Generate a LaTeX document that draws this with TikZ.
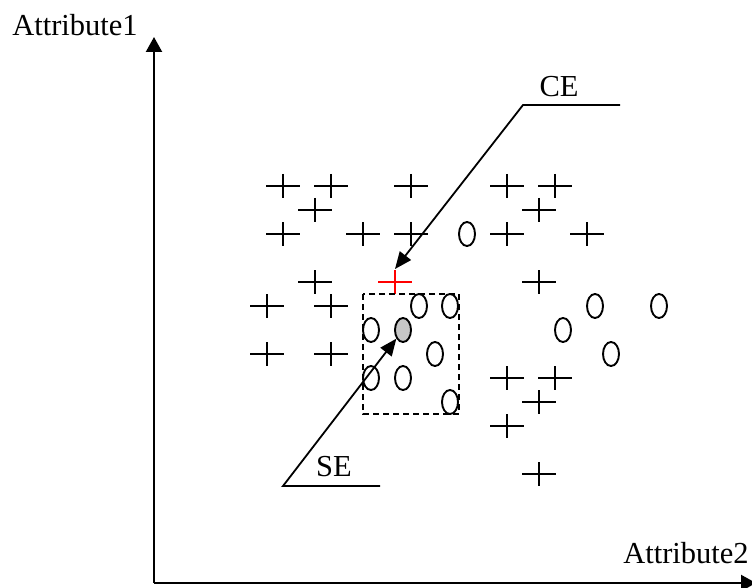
\documentclass[tikz,border=0pt]{standalone}
\usepackage{fontspec}
\setmainfont{Liberation Serif}
\usetikzlibrary{arrows.meta,shapes.geometric}
\begin{document}
\begin{tikzpicture}[x=1pt,y=-1pt,
  line width=2pt,
  lbl/.style={font=\fontsize{30.5}{36}\selectfont, inner sep=0pt},
  plusmark/.style={rectangle, minimum width=34pt, minimum height=24pt, inner sep=0pt,
    path picture={\draw[line width=2.2pt, #1]
      (path picture bounding box.west) -- (path picture bounding box.east)
      (path picture bounding box.north) -- (path picture bounding box.south);}},
  plusmark/.default=black,
  ovalmark/.style={ellipse, draw, line width=1.9pt, minimum width=16pt, minimum height=24pt, inner sep=0pt},
  axisarrow/.style={line width=2.2pt, -{Triangle[length=15pt,width=16pt]}},
  callout/.style={line width=1.8pt, -{Triangle[length=17pt,width=14pt]}},
  region/.style={draw, line width=1.6pt, dash pattern=on 6pt off 4pt}
]
\useasboundingbox (0,0) rectangle (752,588);

% axes
\coordinate (origin) at (154,583);
\coordinate (ytop) at (154,37);
\coordinate (xend) at (756,583);
\draw[axisarrow] (origin) -- (ytop);
\draw[axisarrow] (origin) -- (xend);
\node[lbl] (ylabel) at (75,25) {Attribute1};
\node[lbl] (xlabel) at (686,553) {Attribute2};

% class "+" samples
\foreach \px/\py [count=\i] in {
  283/186, 331/186, 315/210, 411/186, 507/186, 555/186, 539/210,
  283/234, 363/234, 411/234, 507/234, 587/234,
  315/282, 539/282,
  267/306, 331/306, 267/354, 331/354,
  507/378, 555/378, 539/402, 507/426, 539/474}
  \node[plusmark] (p\i) at (\px,\py) {};

% class "o" samples
\foreach \px/\py [count=\i] in {
  467/234, 419/306, 450/306, 371/330, 435/354, 371/378, 403/378, 450/402,
  595/306, 659/306, 563/330, 611/354}
  \node[ovalmark] (o\i) at (\px,\py) {};

% highlighted samples
\node[plusmark=red] (ce) at (395,282) {};
\node[ovalmark, fill=black!22] (se) at (403,330) {};

% neighbourhood region
\draw[region] (363,294) rectangle (459,414);

% CE callout
\coordinate (ceend) at (620,105);
\coordinate (ceknee) at (523,105);
\node[lbl] (celabel) at (559,87) {CE};
\draw[callout] (ceend) -- (ceknee) -- (ce.north);

% SE callout
\coordinate (seend) at (380,486);
\coordinate (seknee) at (283,486);
\node[lbl] (selabel) at (334,467) {SE};
\draw[callout] (seend) -- (seknee) -- (se);
\end{tikzpicture}
\end{document}
